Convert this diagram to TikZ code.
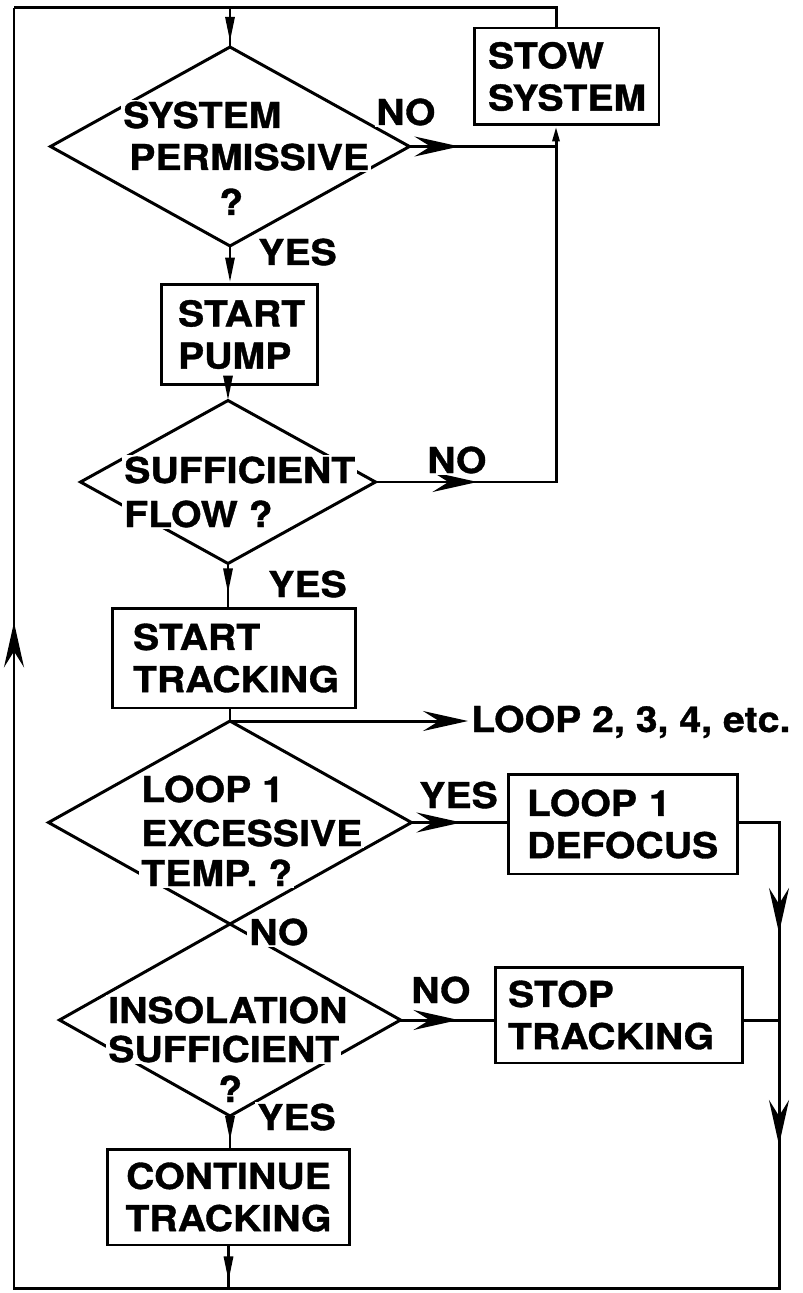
\documentclass[tikz,border=0pt]{standalone}
\usepackage{fontspec}
\newfontfamily\heros{TeX Gyre Heros}[FakeStretch=1.1,FakeBold=1]
\usetikzlibrary{arrows.meta,shapes.geometric,decorations.markings}
\newcommand{\flowfont}{\heros\bfseries\fontsize{20.3}{24}\selectfont}

\begin{document}
\begin{tikzpicture}[x=0.02cm,y=-0.02cm,line width=1.7pt,
    flowtip/.tip={Stealth[length=9mm,width=4mm,inset=3.2mm]},
    smalltip/.tip={Triangle[length=5mm,width=1.8mm]},
    tipat/.style={postaction={decorate,decoration={markings,mark=at position #1 with {\arrow{flowtip}}}}},
    smalltipat/.style={postaction={decorate,decoration={markings,mark=at position #1 with {\arrow{smalltip}}}}},
    box/.style={draw,inner sep=0pt,align=left,font=\flowfont},
    decision/.style={draw,diamond,inner sep=0pt,outer sep=0pt},
    word/.style={fill=white,inner sep=1pt,font=\flowfont,anchor=base west}]
    \useasboundingbox (0,0) rectangle (802,1293);

    % decisions
    \node[decision,minimum width=7.18cm,minimum height=3.98cm] (d1) at (230,146.5) {};
    \node[decision,minimum width=5.9cm,minimum height=3.26cm] (d2) at (228,482) {};
    \node[decision,minimum width=7.26cm,minimum height=4.06cm] (d3) at (230,822.5) {};
    \node[decision,minimum width=6.82cm,minimum height=3.84cm] (d4) at (230,1020) {};

    % actions
    \node[box,minimum width=3.7cm,minimum height=1.94cm,text width=3.14cm] (stow) at (566.5,76.5) {STOW\\SYSTEM};
    \node[box,minimum width=3.14cm,minimum height=2.02cm,text width=2.46cm] (pump) at (239.5,334.5) {START\\PUMP};
    \node[box,minimum width=4.88cm,minimum height=2cm,text width=4.04cm] (track) at (234,658) {START\\TRACKING};
    \node[box,minimum width=4.6cm,minimum height=2cm,text width=3.84cm] (defocus) at (623,824) {LOOP 1\\DEFOCUS};
    \node[box,minimum width=4.96cm,minimum height=1.92cm,text width=4.44cm] (stop) at (619,1015) {STOP\\TRACKING};
    \node[box,align=center,minimum width=4.86cm,minimum height=1.92cm,text width=4.3cm] (cont) at (228.5,1197) {CONTINUE\\TRACKING};
    \node[font=\flowfont,anchor=base west,inner sep=1pt] (loops) at (468,732) {LOOP 2, 3, 4, etc.};

    \coordinate (tl) at (14,8);
    \coordinate (bl) at (14,1288);
    \coordinate (br) at (779,1288);
    \coordinate (rj) at (779,1020);
    \coordinate (sx) at (556,8);

    % return loop
    \draw[tipat=2.5cm,tipat=33.98cm] (rj) -- (br) -- (bl) -- (tl);
    \draw[smalltipat=5cm] (tl) -- (d1.north |- tl) -- (d1.north);
    \draw (stow.north -| sx) -- (sx) -- (d1.north |- tl);
    \draw[tipat=3cm] (defocus.east |- d3.east) -| (rj);
    \draw (stop.east |- rj) -- (rj);
    \draw[smalltipat=0.7cm] (cont.south) -- (cont.south |- bl);

    % main line
    \draw[-{smalltip}] (d1.south) -- (d1.south |- pump.north);
    \draw[-{smalltip}] (d2.north |- pump.south) -- (d2.north);
    \draw[smalltipat=0.6cm] (d2.south) -- (d2.south |- track.north);
    \draw (d3.north |- track.south) -- (d3.north);
    \draw[-{flowtip}] (d3.north) -- (d3.north -| loops.west);
    \draw[smalltipat=0.5cm] (d4.south) -- (d4.south |- cont.north);

    % branches
    \draw[tipat=1cm] (d1.east) -- (d1.east -| sx);
    \draw[tipat=2.04cm,-{Triangle[length=3mm,width=1.4mm]}] (d2.east) -- (d2.east -| sx) -- (stow.south -| sx);
    \draw[tipat=1cm] (d3.east) -- (d3.east -| defocus.west);
    \draw[tipat=1.16cm] (d4.east) -- (d4.east -| stop.west);

    % texts in decisions
    \node[word] (d1a) at (120,128) {SYSTEM};
    \node[word] (d1b) at (126,170) {PERMISSIVE};
    \node[word] (d1c) at (216,215) {?};
    \node[word] (d2a) at (121,483) {SUFFICIENT};
    \node[word] (d2b) at (121,527) {FLOW ?};
    \node[word] (d3a) at (138,802) {LOOP 1};
    \node[word] (d3b) at (138,846) {EXCESSIVE};
    \node[word] (d3c) at (138,886) {TEMP. ?};
    \node[word] (d4a) at (105,1023) {INSOLATION};
    \node[word] (d4b) at (105,1062) {SUFFICIENT};
    \node[word] (d4c) at (215,1102) {?};

    % answers
    \node[word] (no1) at (373,125) {NO};
    \node[word] (yes1) at (255,265) {YES};
    \node[word] (no2) at (424,473) {NO};
    \node[word] (yes2) at (265,597) {YES};
    \node[word] (yes3) at (416,808) {YES};
    \node[word] (no3) at (246,945) {NO};
    \node[word] (no4) at (408,1003) {NO};
    \node[word] (yes4) at (254,1130) {YES};
  \end{tikzpicture}
\end{document}
